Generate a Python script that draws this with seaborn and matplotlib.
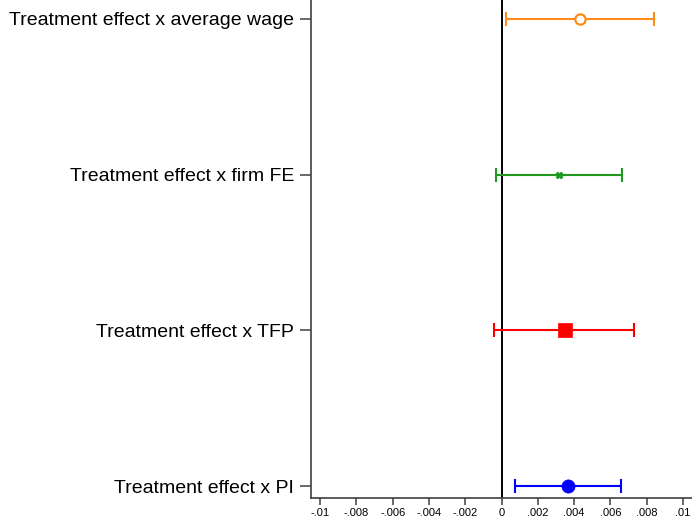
import matplotlib
matplotlib.use("Agg")
import matplotlib.pyplot as plt
import seaborn as sns
import pandas as pd

# Interaction terms, point estimates and confidence bounds
labels = ["Treatment effect x PI", "Treatment effect x TFP",
          "Treatment effect x firm FE", "Treatment effect x average wage"]
estimates = [0.00366, 0.00348, 0.00315, 0.00434]
ci_low = [0.00077, -0.00040, -0.00029, 0.00027]
ci_high = [0.00656, 0.00733, 0.00665, 0.00840]
colors = ["#0000ff", "#ff0000", "#1f9a1f", "#ff8c1a"]
markers = ["o", "s", "X", "o"]
tick_values = [-0.01, -0.008, -0.006, -0.004, -0.002, 0, 0.002, 0.004, 0.006, 0.008, 0.01]
tick_labels = ["-.01", "-.008", "-.006", "-.004", "-.002", "0",
               ".002", ".004", ".006", ".008", ".01"]

sns.set_style("white")
plt.rcParams["font.family"] = ["Liberation Sans", "DejaVu Sans"]

df = pd.DataFrame({"term": labels, "est": estimates, "lo": ci_low, "hi": ci_high,
                   "pos": list(range(1, len(labels) + 1))})

fig = plt.figure(figsize=(6.92, 5.21), dpi=100)
ax = fig.add_axes([311 / 692, 23 / 521, 381 / 692, 498 / 521])

ax.axvline(0, color="black", lw=1.4, zorder=1)

for i, row in df.iterrows():
    ax.errorbar(row["est"], row["pos"],
                xerr=[[row["est"] - row["lo"]], [row["hi"] - row["est"]]],
                fmt="none", ecolor=colors[i], elinewidth=1.5, capsize=5,
                capthick=1.5, zorder=2)

sizes = [90, 100, 25, 55]
for i, row in df.iterrows():
    hollow = i == 3
    sns.scatterplot(x=[row["est"]], y=[row["pos"]], ax=ax, marker=markers[i],
                    s=sizes[i],
                    color="white" if hollow else colors[i],
                    edgecolor=colors[i], linewidth=1.6 if hollow else 0.5,
                    zorder=3, legend=False)

ax.set_xlim(-0.0105, 0.0105)
ax.set_ylim(0.923, 4.122)
ax.set_xticks(tick_values)
ax.set_xticklabels(tick_labels, fontsize=8, color="black")
ax.set_yticks(df["pos"])
ax.set_yticklabels(df["term"], fontsize=14, color="black")
ax.set_xlabel("")
ax.set_ylabel("")

for side in ["top", "right"]:
    ax.spines[side].set_visible(False)
for side in ["left", "bottom"]:
    ax.spines[side].set_color("#404040")
    ax.spines[side].set_linewidth(1.2)
ax.tick_params(axis="y", left=True, length=8, width=1.1, color="#404040", pad=4)
ax.tick_params(axis="x", bottom=True, length=5, width=1.1, color="#404040", pad=2)
ax.grid(False)

fig.savefig("out.png", dpi=100)
